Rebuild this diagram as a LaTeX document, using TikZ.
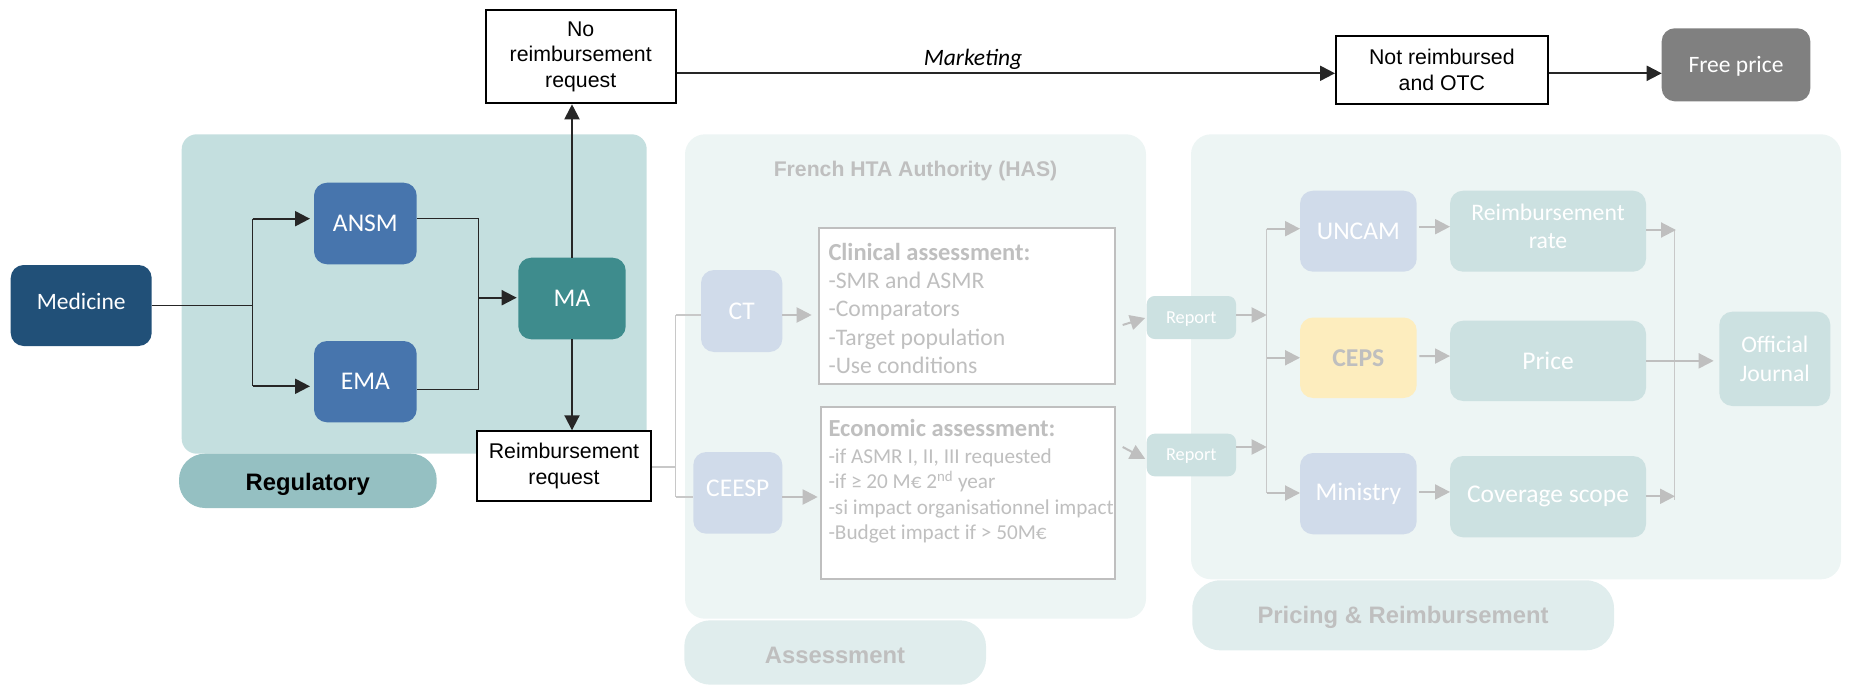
\documentclass[tikz,border=0pt]{standalone}
\usepackage{fontspec}
\setmainfont{Carlito}
\newfontfamily\calfont{Carlito}
\newfontfamily\arifont{Liberation Sans}
\usetikzlibrary{arrows.meta,calc}
\newcommand{\myfs}[2]{\fontsize{#1}{#2}\selectfont}
\definecolor{medblue}{RGB}{33,80,120}
\definecolor{agblue}{RGB}{71,117,173}
\definecolor{mateal}{RGB}{62,140,141}
\definecolor{regpanel}{RGB}{196,223,223}
\definecolor{reglab}{RGB}{149,192,194}
\definecolor{lightpanel}{RGB}{237,245,244}
\definecolor{lightlab}{RGB}{224,237,237}
\definecolor{paleblue}{RGB}{208,219,234}
\definecolor{paleteal}{RGB}{204,225,225}
\definecolor{paleyellow}{RGB}{253,237,190}
\definecolor{fadegray}{RGB}{191,191,191}
\definecolor{linegray}{RGB}{200,200,200}
\definecolor{freegray}{RGB}{128,128,128}
\definecolor{darkline}{RGB}{38,38,38}
\tikzset{
 panel/.style={rectangle, inner sep=0pt, outer sep=0pt, anchor=north west},
 wbox/.style={rectangle, inner sep=0pt, outer sep=0pt, anchor=north west, rounded corners=13pt, text=white, align=center, font=\calfont\myfs{25.5}{28}},
 bbox/.style={rectangle, inner sep=0pt, anchor=north west, draw=black, line width=2pt, fill=white, align=center, font=\arifont\myfs{21.3}{25.5}},
 gbox/.style={rectangle, inner sep=0pt, anchor=north west, draw=fadegray, line width=2pt, fill=white},
 paneltext/.style={anchor=base, inner sep=0pt, font=\arifont\bfseries\myfs{23.8}{28}},
 cltext/.style={anchor=base west, inner sep=0pt, text=fadegray},
 blk/.style={draw=darkline, line width=2pt, -{Triangle[length=15pt,width=15pt]}},
 blkthin/.style={draw=darkline, line width=1.2pt},
 gry/.style={draw=fadegray, line width=2pt, -{Triangle[length=15pt,width=15pt]}},
 grythin/.style={draw=linegray, line width=1.5pt},
}
\begin{document}
\begin{tikzpicture}[x=1pt,y=-1pt]
\useasboundingbox (0,0) rectangle (1851,687);
% panels
\node[panel, fill=regpanel, minimum width=465pt, minimum height=319.4pt, rounded corners=15pt] (regp) at (181.7,134.3) {};
\node[panel, fill=lightpanel, minimum width=461pt, minimum height=484.4pt, rounded corners=20pt] (hasp) at (685,134.3) {};
\node[panel, fill=lightpanel, minimum width=650pt, minimum height=445pt, rounded corners=20pt] (prp) at (1191,134.3) {};
\node[panel, fill=reglab, minimum width=257.7pt, minimum height=54.3pt, rounded corners=26pt] (regl) at (179,453.7) {};
\node[panel, fill=lightlab, minimum width=301.7pt, minimum height=64.4pt, rounded corners=26pt] (assl) at (684.3,620.3) {};
\node[panel, fill=lightlab, minimum width=421.7pt, minimum height=70pt, rounded corners=28pt] (prl) at (1192.3,580.3) {};
\node[paneltext, text=black] (regt) at (307.8,490.3) {Regulatory};
\node[paneltext, text=fadegray] (asst) at (835,663.7) {Assessment};
\node[paneltext, text=fadegray] (prt) at (1403,623.7) {Pricing \& Reimbursement};
\node[anchor=base, inner sep=0pt, font=\arifont\bfseries\myfs{21.2}{25}, text=fadegray] (hast) at (915.5,176.7) {French HTA Authority (HAS)};
% regulatory boxes
\node[wbox, fill=medblue, minimum width=141pt, minimum height=81pt, text depth=8pt, font=\calfont\myfs{23.5}{28}] (med) at (10.7,265) {Medicine};
\node[wbox, fill=agblue, minimum width=102.7pt, minimum height=81.6pt] (ansm) at (314,182.7) {ANSM};
\node[wbox, fill=agblue, minimum width=102.7pt, minimum height=81.3pt] (ema) at (314,341) {EMA};
\node[wbox, fill=mateal, minimum width=107.4pt, minimum height=81.6pt] (ma) at (518.3,257.7) {MA};
\node[bbox, minimum width=190pt, minimum height=93.3pt] (noreimb) at (484.7,9) {No\\reimbursement\\request};
\node[bbox, minimum width=174.6pt, minimum height=69.7pt] (reimbreq) at (475.7,430.3) {Reimbursement\\request};
\node[bbox, minimum width=211.7pt, minimum height=68pt] (notreimb) at (1335,34.7) {Not reimbursed\\and OTC};
\node[wbox, fill=freegray, minimum width=148.6pt, minimum height=73pt, text depth=0pt, font=\calfont\myfs{23.5}{28}] (free) at (1661.7,28.3) {Free price};
% assessment
\node[wbox, fill=paleblue, minimum width=81.3pt, minimum height=82pt] (ct) at (701,270) {CT};
\node[wbox, fill=paleblue, minimum width=89pt, minimum height=81.7pt, text depth=10pt] (ceesp) at (693.3,452) {CEESP};
\node[gbox, minimum width=295.7pt, minimum height=156pt] (clin) at (818.3,226.7) {};
\node[gbox, minimum width=294pt, minimum height=171.4pt] (econ) at (820,406.3) {};
\node[cltext, font=\calfont\bfseries\myfs{24.5}{28}] (cl0) at (828.3,260) {Clinical assessment:};
\node[cltext, font=\calfont\myfs{23.7}{28}] (cl1) at (828.3,288.3) {-SMR and ASMR};
\node[cltext, font=\calfont\myfs{23.7}{28}] (cl2) at (828.3,316.8) {-Comparators};
\node[cltext, font=\calfont\myfs{23.7}{28}] (cl3) at (828.3,345.2) {-Target population};
\node[cltext, font=\calfont\myfs{23.7}{28}] (cl4) at (828.3,373.7) {-Use conditions};
\node[cltext, font=\calfont\bfseries\myfs{24.5}{28}] (ec0) at (828.3,436.3) {Economic assessment:};
\node[cltext, font=\calfont\myfs{21.2}{25}] (ec1) at (828.3,463) {-if ASMR I, II, III requested};
\node[cltext, font=\calfont\myfs{21.2}{25}] (ec2) at (828.3,488.6) {-if ≥ 20 M€ 2\textsuperscript{nd} year};
\node[cltext, font=\calfont\myfs{21.2}{25}] (ec3) at (828.3,514.2) {-si impact organisationnel impact};
\node[cltext, font=\calfont\myfs{21.2}{25}] (ec4) at (828.3,539.8) {-Budget impact if > 50M€};
\node[wbox, fill=paleteal, minimum width=89.3pt, minimum height=43pt, rounded corners=8pt, text depth=0pt, font=\calfont\myfs{18.3}{22}] (rep1) at (1146.7,296) {Report};
\node[wbox, fill=paleteal, minimum width=89.3pt, minimum height=42.6pt, rounded corners=8pt, text depth=0pt, font=\calfont\myfs{18.3}{22}] (rep2) at (1146.7,433.7) {Report};
% pricing
\node[wbox, fill=paleblue, minimum width=116.7pt, minimum height=81pt] (uncam) at (1300,190.7) {UNCAM};
\node[wbox, fill=paleyellow, minimum width=116.7pt, minimum height=80.5pt, text=fadegray, font=\calfont\bfseries\myfs{25.7}{28}] (ceps) at (1300,317.5) {CEPS};
\node[wbox, fill=paleblue, minimum width=116.7pt, minimum height=81.3pt] (ministry) at (1300,453) {Ministry};
\node[wbox, fill=paleteal, minimum width=196pt, minimum height=81pt, text depth=10pt, font=\calfont\myfs{23.7}{28}] (rrate) at (1450,190.7) {Reimbursement\\rate};
\node[wbox, fill=paleteal, minimum width=196pt, minimum height=80.3pt] (price) at (1450,320.7) {Price};
\node[wbox, fill=paleteal, minimum width=196pt, minimum height=81.3pt] (cover) at (1450,456) {Coverage scope};
\node[wbox, fill=paleteal, minimum width=111pt, minimum height=94.3pt, font=\calfont\myfs{23.7}{28.5}] (oj) at (1719.3,311.7) {Official\\Journal};
% black connectors
\coordinate (sp) at (252.7,305.5);
\coordinate (spa) at (252.7,218.7);
\coordinate (spe) at (252.7,386.3);
\draw[blkthin] (med.east) -- (sp);
\draw[blkthin] (spa) -- (spe);
\draw[blk, shorten >=4pt] (spa) -- (spa -| ansm.west);
\draw[blk, shorten >=4pt] (spe) -- (spe -| ema.west);
\coordinate (mg) at (478.3,297.7);
\coordinate (ansmo) at ([yshift=4.8pt]ansm.east);
\coordinate (emao) at ([yshift=-8pt]ema.east);
\draw[blkthin] (ansmo) -| (mg) |- (emao);
\draw[blk, shorten >=1.6pt] (mg) -- (mg -| ma.west);
\draw[blk] (ma.north) -- (ma.north |- noreimb.south);
\draw[blk] (ma.south) -- (ma.south |- reimbreq.north);
\coordinate (nrw) at ([yshift=-3.6pt]notreimb.west);
\draw[blk] (noreimb.east |- nrw) -- (nrw);
\node[anchor=base, inner sep=0pt, font=\calfont\itshape\myfs{23.5}{28}] (mkt) at (973,65.7) {Marketing};
\coordinate (nre) at ([yshift=-3.6pt]notreimb.east);
\draw[blk] (nre) -- (nre -| free.west);
% gray connectors
\coordinate (gm) at (675.7,467);
\coordinate (gt) at (675.7,315);
\coordinate (gb) at (675.7,497);
\draw[grythin] (reimbreq.east |- gm) -- (gm);
\draw[grythin] (gt) -- (gb);
\draw[grythin] (gt) -- (gt -| ct.west);
\draw[grythin] (gb) -- (gb -| ceesp.west);
\draw[gry, shorten >=6.6pt] (gt -| ct.east) -- (gt -| clin.west);
\draw[gry, shorten >=2.3pt] (gb -| ceesp.east) -- (gb -| econ.west);
\coordinate (c1) at (1122.7,325);
\coordinate (c2) at (1122.7,447);
\draw[gry, shorten >=1.7pt] (c1) -- (rep1.west);
\draw[gry, shorten >=1.7pt] (c2) -- ([yshift=-4.7pt]rep2.west);
\coordinate (pt) at (1266.7,228.7);
\coordinate (pb) at (1266.7,493);
\draw[grythin] (pt) -- (pb);
\coordinate (r1e) at ([yshift=2.5pt]rep1.east);
\coordinate (r2e) at ([yshift=8pt]rep2.east);
\draw[gry] (r1e) -- (r1e -| pt);
\draw[gry] (r2e) -- (r2e -| pt);
\draw[gry] (pt) -- (pt -| uncam.west);
\draw[gry] (pt |- ceps.west) -- (ceps.west);
\draw[gry] (pb) -- (pb -| ministry.west);
\draw[gry, shorten <=2.6pt] ([yshift=4.5pt]uncam.east) -- ([yshift=4.5pt]rrate.west);
\draw[gry, shorten <=2.6pt] ([yshift=1.7pt]ceps.east) -- ([yshift=4.8pt]price.west);
\draw[gry, shorten <=2.6pt] ([yshift=1.7pt]ministry.east) -- ([yshift=4.7pt]cover.west);
\coordinate (qt) at (1674.3,230);
\coordinate (qb) at (1674.3,499.7);
\coordinate (qc) at (1674.3,496.3);
\draw[grythin] (qt) -- (qb);
\draw[gry, shorten >=-1.7pt] (rrate.east |- qt) -- (qt);
\draw[gry, shorten >=-0.7pt] (cover.east |- qc) -- (qc);
\draw[gry, shorten >=5.6pt] (price.east) -- (price.east -| oj.west);
\end{tikzpicture}
\end{document}
